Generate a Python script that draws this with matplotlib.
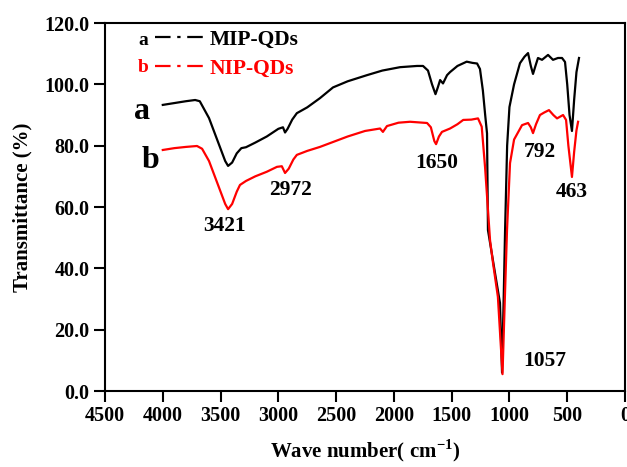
import matplotlib
matplotlib.use("Agg")
import matplotlib.pyplot as plt
from matplotlib.lines import Line2D

# ---- data ----
mip_wn = [4000, 3900, 3800, 3720, 3680, 3600, 3520, 3460, 3435, 3400, 3360, 3320, 3280,
          3200, 3100, 3000, 2960, 2942, 2920, 2880, 2840, 2750, 2640, 2527, 2400, 2233,
          2100, 1947, 1800, 1748, 1705, 1670, 1640, 1620, 1600, 1575, 1540, 1514, 1450,
          1370, 1320, 1280, 1255, 1230, 1210, 1194, 1186, 1125, 1082, 1064, 1050, 1038,
          1020, 1000, 960, 909, 870, 839, 815, 796, 775, 753, 718, 666, 623, 580, 545,
          519, 500, 480, 459, 440, 420, 398]
mip_t = [93.3, 93.9, 94.5, 94.9, 94.5, 89.0, 81.0, 75.0, 73.4, 74.5, 77.5, 79.2, 79.5,
         81.0, 83.0, 85.5, 86.0, 84.3, 85.5, 88.5, 90.6, 92.5, 95.5, 99.0, 101.0, 103.0,
         104.5, 105.6, 106.0, 106.0, 104.5, 100.0, 96.8, 99.0, 101.4, 100.3, 103.0, 104.0, 106.0,
         107.4, 107.0, 106.8, 105.0, 98.0, 90.0, 84.0, 52.5, 38.5, 28.7, 6.0, 30.0, 52.0,
         80.0, 92.6, 100.0, 106.9, 109.0, 110.2, 106.0, 103.4, 106.0, 108.6, 108.0, 109.6, 108.0, 108.6, 108.6,
         107.3, 100.0, 90.0, 84.8, 95.0, 104.0, 108.6]

nip_wn = [4000, 3900, 3800, 3704, 3660, 3600, 3520, 3460, 3435, 3400, 3360, 3332, 3280,
          3200, 3100, 3012, 2970, 2942, 2910, 2870, 2840, 2750, 2640, 2527, 2400, 2250,
          2120, 2095, 2060, 1960, 1860, 1713, 1680, 1650, 1635, 1610, 1584, 1514, 1450,
          1400, 1330, 1272, 1240, 1211, 1168, 1142, 1100, 1060, 1040, 1021, 995, 960,
          891, 839, 815, 796, 770, 736, 700, 658, 620, 588, 536, 510, 490, 459, 440,
          420, 406]
nip_t = [78.6, 79.2, 79.6, 79.9, 79.0, 75.0, 67.0, 61.0, 59.3, 61.0, 65.0, 67.2, 68.5,
         70.0, 71.5, 73.1, 73.3, 71.1, 72.5, 75.5, 77.0, 78.3, 79.6, 81.2, 83.0, 84.8,
         85.6, 84.5, 86.4, 87.5, 87.8, 87.4, 86.0, 81.5, 80.5, 83.0, 84.5, 85.6, 87.0,
         88.4, 88.5, 88.9, 86.2, 73.0, 49.2, 41.7, 30.7, 5.5, 30.0, 52.5, 74.3, 82.0,
         86.7, 87.4, 86.0, 84.1, 87.0, 90.0, 90.8, 91.6, 90.0, 88.9, 90.0, 88.4, 80.0, 69.8, 78.0,
         85.0, 87.8]

peak_labels = ["3421", "2972", "1650", "792", "463", "1057"]
peak_pos = [(3462, 53.8), (2899, 65.4), (1627, 74.3), (736, 77.9), (459, 64.9), (692, 9.8)]

x_ticks = [4500, 4000, 3500, 3000, 2500, 2000, 1500, 1000, 500, 0]
y_ticks = [0, 20, 40, 60, 80, 100, 120]

# ---- plot ----
plt.rcParams['font.family'] = ['Liberation Serif', 'DejaVu Serif']
plt.rcParams['font.weight'] = 'bold'
plt.rcParams['mathtext.fontset'] = 'custom'
plt.rcParams['mathtext.rm'] = 'Liberation Serif:bold'
plt.rcParams['mathtext.bf'] = 'Liberation Serif:bold'

fig = plt.figure(figsize=(6.27, 4.67), dpi=100)
ax = fig.add_axes([0.1675, 0.1627, 0.8293, 0.788])

ax.plot(mip_wn, mip_t, color='black', lw=1.6, zorder=3)
ax.plot(nip_wn, nip_t, color='red', lw=1.6, zorder=4)

ax.set_xlim(4500, 0)
ax.set_ylim(0, 120)
ax.set_xticks(x_ticks)
ax.set_yticks(y_ticks)
ax.set_yticklabels([f"{v:.1f}" for v in y_ticks])
ax.tick_params(axis='both', direction='out', length=8, width=1.5, labelsize=14.5, pad=3)
ax.tick_params(top=False, right=False)
for lab in ax.get_xticklabels() + ax.get_yticklabels():
    lab.set_fontweight('bold')
for s in ax.spines.values():
    s.set_linewidth(1.5)

ax.set_xlabel("Wave number( cm$^{\\mathbf{-1}}$)", fontsize=15, fontweight='bold', labelpad=8)
ax.set_ylabel("Transmittance (%)", fontsize=15, fontweight='bold', labelpad=9)

for lab, (x, y) in zip(peak_labels, peak_pos):
    ax.text(x, y, lab, fontsize=15.5, fontweight='bold', ha='center', va='center')

ax.text(4180, 91, "a", fontsize=23, fontweight='bold', ha='center', va='center')
ax.text(4110, 75.3, "b", fontsize=23, fontweight='bold', ha='center', va='center')

handles = [Line2D([], [], color='black', lw=1.6, dashes=(7, 3, 1.5, 3)),
           Line2D([], [], color='red', lw=1.6, dashes=(7, 3, 1.5, 3))]
leg = ax.legend(handles, ["MIP-QDs", "NIP-QDs"], loc='upper left',
                bbox_to_anchor=(0.097, 0.982), frameon=False,
                handlelength=2.4, handletextpad=0.1, borderpad=0, borderaxespad=0,
                labelspacing=0.42, prop={'weight': 'bold', 'size': 15.5})
leg.get_texts()[1].set_color('red')
ax.text(0.073, 0.952, "a", transform=ax.transAxes, fontsize=14, fontweight='bold',
        ha='center', va='center')
ax.text(0.073, 0.878, "b", transform=ax.transAxes, fontsize=14, fontweight='bold',
        ha='center', va='center', color='red')

fig.savefig("out.png", dpi=100)
